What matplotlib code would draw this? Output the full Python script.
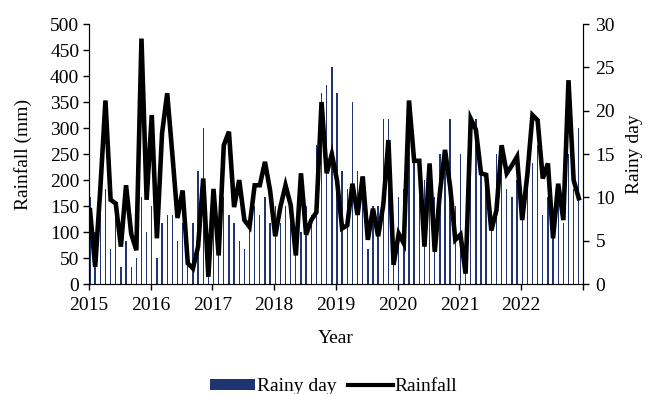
import numpy as np
import matplotlib
matplotlib.use("Agg")
import matplotlib.pyplot as plt
from matplotlib.patches import Patch
from matplotlib.lines import Line2D

plt.rcParams['font.family'] = ['Liberation Serif', 'DejaVu Serif']

# Monthly series, Jan 2015 - Dec 2022
years = [2015, 2016, 2017, 2018, 2019, 2020, 2021, 2022]

rainfall_mm = [
    142, 33, 183, 353, 162, 155, 72, 190, 97, 65, 472, 162,
    325, 88, 290, 367, 250, 127, 180, 40, 30, 72, 203, 14,
    183, 55, 267, 293, 148, 200, 123, 110, 190, 190, 235, 180,
    92, 148, 190, 152, 55, 213, 95, 123, 138, 350, 213, 250,
    200, 107, 113, 193, 133, 207, 85, 145, 92, 152, 277, 37,
    97, 78, 353, 237, 237, 72, 232, 62, 175, 258, 187, 85,
    95, 20, 318, 297, 213, 210, 103, 142, 267, 213, 228, 245,
    123, 210, 325, 315, 203, 232, 88, 193, 123, 392, 200, 165,
]

rainy_days = [
    10, 6, 8, 11, 4, 8, 2, 5, 2, 3, 10, 6,
    9, 3, 7, 8, 8, 5, 7, 4, 7, 13, 18, 3,
    8, 7, 10, 8, 7, 5, 4, 7, 9, 8, 10, 7,
    9, 7, 9, 7, 5, 6, 9, 8, 16, 22, 23, 25,
    22, 13, 11, 21, 13, 12, 4, 9, 9, 19, 19, 3,
    10, 11, 18, 15, 10, 12, 13, 10, 15, 14, 19, 9,
    15, 4, 19, 19, 13, 12, 8, 15, 15, 11, 10, 12,
    9, 15, 14, 16, 8, 10, 6, 10, 7, 15, 11, 18,
]

t = years[0] + (np.arange(len(rainfall_mm)) + 0.2) / 12

fig = plt.figure(figsize=(6.52, 3.94), dpi=100)
ax = fig.add_axes([0.1365, 0.279, 0.7575, 0.66])
ax2 = ax.twinx()

bar_color = '#1f3470'
ax2.bar(t, rainy_days, width=0.022, color=bar_color, zorder=1)
ax.plot(t, rainfall_mm, color='black', lw=3.3, solid_joinstyle='miter', zorder=3)

# line above the bars
ax.set_zorder(ax2.get_zorder() + 1)
ax.patch.set_visible(False)

ax.set_xlim(2015, 2023)
ax.set_ylim(0, 500)
ax2.set_ylim(0, 30)
ax.set_xticks(years + [2023])
ax.set_xticklabels([str(y) for y in years] + [''])
ax.set_yticks(range(0, 501, 50))
ax2.set_yticks(range(0, 31, 5))

for a in (ax, ax2):
    a.spines['top'].set_visible(False)
    a.tick_params(labelsize=14, direction='out', length=4, width=1)
ax.tick_params(axis='x', pad=5)
ax.tick_params(axis='y', pad=3)
ax2.tick_params(axis='y', pad=5)

ax.set_ylabel('Rainfall (mm)', fontsize=14, labelpad=13)
ax2.set_ylabel('Rainy day', fontsize=14, labelpad=8)
ax.set_xlabel('Year', fontsize=14, labelpad=12)

handles = [Patch(facecolor=bar_color, label='Rainy day'),
           Line2D([], [], color='black', lw=3, label='Rainfall')]
fig.legend(handles=handles, loc='center', bbox_to_anchor=(0.512, 0.018),
           ncol=2, frameon=False, fontsize=14, handlelength=2.3,
           handleheight=0.5, handletextpad=0.1, columnspacing=0.6)

fig.savefig('out.png', dpi=100)
